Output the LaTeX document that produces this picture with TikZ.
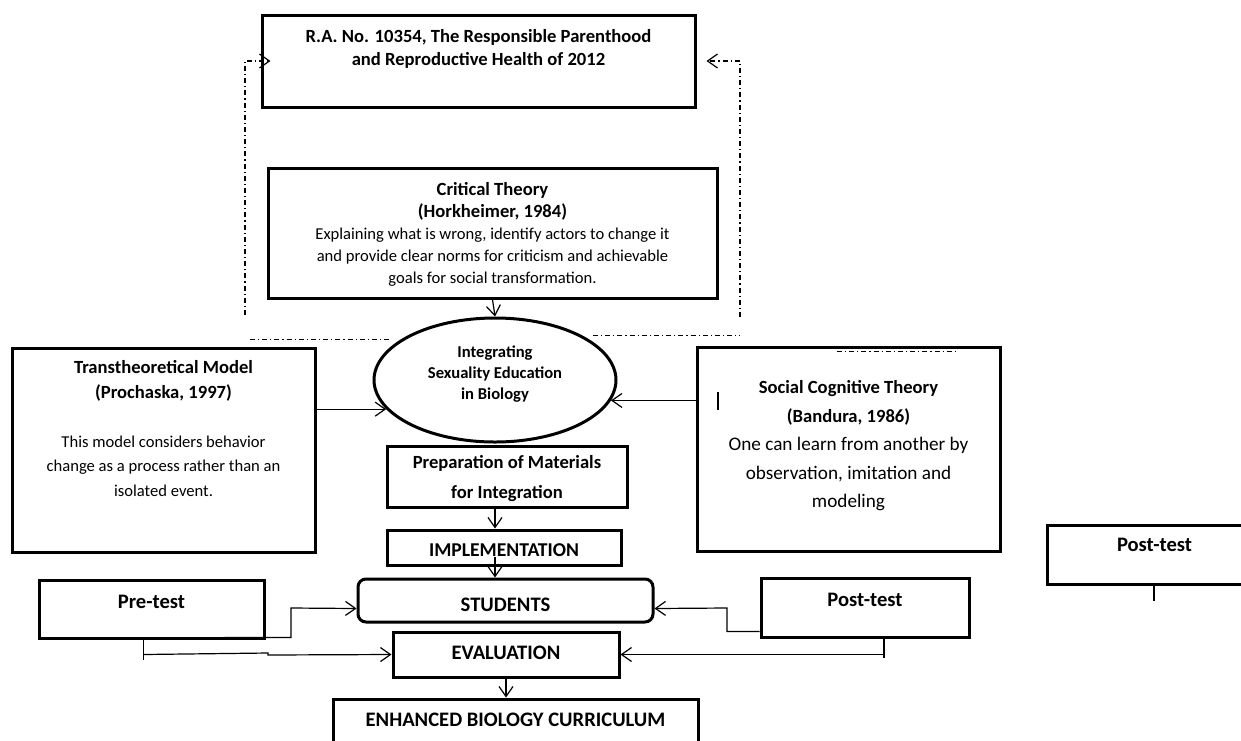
\documentclass[tikz,border=0pt]{standalone}
\usepackage{fontspec}
\setmainfont{Carlito}
\usetikzlibrary{arrows.meta,shapes.geometric}

\newcommand{\hdfont}{\bfseries\fontsize{9.3}{11.5}\selectfont}
\newcommand{\lblfont}{\bfseries\fontsize{10.3}{12.5}\selectfont}

\tikzset{
  box/.style = {draw, line width=1.5pt, inner sep=0pt, align=center},
  arr/.style = {line width=0.6pt, -{Straight Barb[length=5pt,width=7pt]}},
  link/.style = {line width=0.6pt},
  dd/.style = {line width=0.5pt, dash pattern=on 2.5pt off 1.5pt on 0.6pt off 1.5pt},
}

\begin{document}
\begin{tikzpicture}[x=0.5pt, y=-0.5pt]
\useasboundingbox (0,0) rectangle (1241,740);
% frameworks
\node[box, minimum width=216.5pt, minimum height=46pt, font=\hdfont, text depth=13.5pt] (ra) at (478.5,61) {R.A. No. 10354, The Responsible Parenthood\\and Reproductive Health of 2012};
\node[box, minimum width=224.5pt, minimum height=65pt, font=\fontsize{8.3}{11}\selectfont, text depth=0pt] (crit) at (492.5,233) {{\hdfont Critical Theory}\\{\hdfont (Horkheimer, 1984)}\\Explaining what is wrong, identify actors to change it\\and provide clear norms for criticism and achievable\\goals for social transformation.};
\node[box, minimum width=151.5pt, minimum height=102pt, font=\fontsize{8.3}{12.3}\selectfont, text depth=21.5pt] (trans) at (163.5,450) {{\hdfont Transtheoretical Model}\\{\hdfont (Prochaska, 1997)}\\\mbox{}\\This model considers behavior\\change as a process rather than an\\isolated event.};
\node[box, minimum width=151.5pt, minimum height=102pt, font=\fontsize{9.6}{14.25}\selectfont, text depth=5pt] (soc) at (848.5,449) {{\hdfont Social Cognitive Theory}\\{\hdfont (Bandura, 1986)}\\One can learn from another by\\observation, imitation and\\modeling};
\node[draw, ellipse, line width=1.5pt, inner sep=0pt, minimum width=121pt, minimum height=62pt, align=center, font=\bfseries\fontsize{8.3}{10.5}\selectfont, text depth=7pt] (integ) at (495,380) {Integrating\\Sexuality Education\\in Biology};
% process
\node[box, minimum width=120pt, minimum height=30.5pt, font=\bfseries\fontsize{9.3}{15}\selectfont, text depth=0pt] (prep) at (507,476.5) {Preparation of Materials\\for Integration};
\node[box, minimum width=117pt, minimum height=17.5pt, font=\bfseries\fontsize{9.8}{12}\selectfont, text height=9.1pt, text depth=0pt] (impl) at (504,547.5) {IMPLEMENTATION};
\node[box, minimum width=147.5pt, minimum height=21.5pt, rounded corners=4pt, font=\lblfont, text height=11.1pt, text depth=0pt] (stud) at (505.5,600.5) {STUDENTS};
\node[box, minimum width=113pt, minimum height=22.5pt, font=\lblfont, text height=7pt, text depth=1.9pt] (eval) at (506,654.5) {EVALUATION};
\node[box, minimum width=182.5pt, minimum height=23pt, font=\lblfont, text height=7pt, text depth=2.4pt] (enh) at (515.5,722) {ENHANCED BIOLOGY CURRICULUM};
\node[box, minimum width=112.5pt, minimum height=29pt, font=\lblfont, text height=7pt, text depth=7.4pt] (pre) at (151.5,609) {Pre-test};
\node[box, minimum width=104pt, minimum height=29.5pt, font=\lblfont, text height=7pt, text depth=7.9pt] (post) at (865,607.5) {Post-test};
\node[box, minimum width=107.5pt, minimum height=29.5pt, font=\lblfont, text height=7pt, text depth=9.9pt] (post2) at (1154.5,554.5) {Post-test};
% dash dot frame
\draw[dd, arr] (245,315) |- ([xshift=5pt]ra.west);
\draw[dd, arr] (740,317) |- ([xshift=5pt]ra.east);
\draw[dd] (250,339) -- (392,339);
\draw[dd] (593,335) -- (740,335);
\draw[dd] (837,351) -- (957,351);
% arrows
\draw[arr] (crit.south) -- (integ.north);
\draw[arr] (integ.195 -| trans.east) -- (integ.195);
\draw[arr] (integ.350 -| soc.west) -- (integ.350);
\draw[arr] (prep.south -| integ.center) -- (impl.north -| integ.center);
\draw[arr] ([yshift=5pt]impl.south -| integ.center) -- (stud.north -| integ.center);
\draw[arr] (eval.south) -- (enh.north -| eval.south);
\draw[arr] ([xshift=-20.5pt,yshift=1pt]pre.south east) -| (291,608) -- ([yshift=-4pt]stud.west);
\draw[link] ([xshift=-4pt]pre.south) -- ++(0,20);
\draw[arr] ([xshift=-4pt,yshift=-7.5pt]pre.south) -- (268,653) -- (268,655) -- (eval.west);
\draw[arr] ([yshift=-12pt]post.west) -| (727,608) -- ([yshift=-4pt]stud.east);
\draw[link] ([xshift=9.5pt]post.south) -- ++(0,19);
\draw[arr] (eval.east -| 884,0) -- (eval.east);
% stray ticks
\draw[link] (718,392) -- (718,410);
\draw[link] (post2.south -| 1154,0) -- ++(0,15);
\end{tikzpicture}
\end{document}
